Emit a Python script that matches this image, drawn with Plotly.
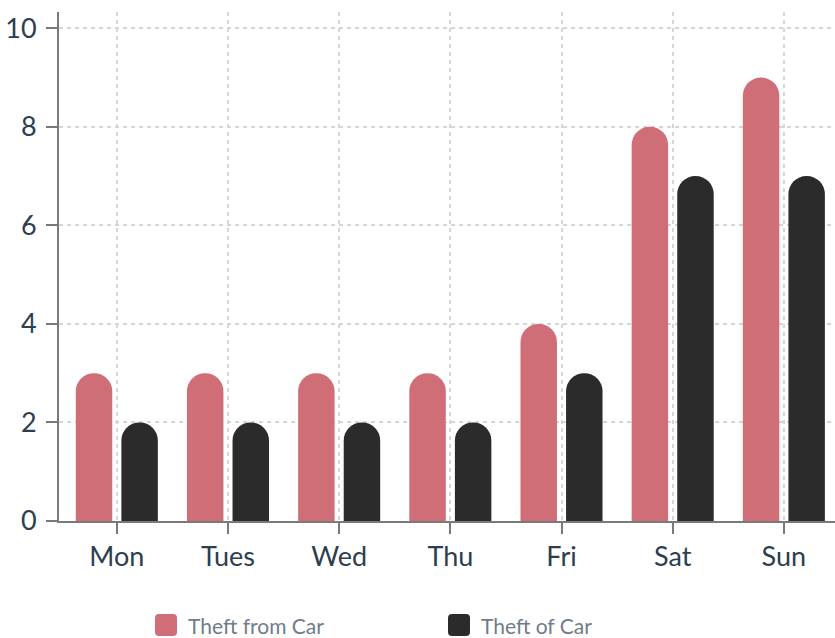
import plotly.graph_objects as go

days = ["Mon", "Tues", "Wed", "Thu", "Fri", "Sat", "Sun"]
theft_from_car = [3, 3, 3, 3, 4, 8, 9]
theft_of_car = [2, 2, 2, 2, 3, 7, 7]
series_names = ["Theft from Car", "Theft of Car"]
series_colors = ["#D06E78", "#2B2B2B"]
y_ticks = [0, 2, 4, 6, 8, 10]

FONT = "Lato"
W, H = 835, 638
ML, MR, MT, MB = 59, 0, 12, 117
PW, PH = W - ML - MR, H - MT - MB

fig = go.Figure()
for name, vals, col in zip(series_names, [theft_from_car, theft_of_car], series_colors):
    fig.add_trace(go.Bar(x=days, y=vals, name=name, marker=dict(color=col, line=dict(width=0), cornerradius="50%"),
                         showlegend=False))

# custom legend
def px_x(p):
    return (p - ML) / PW

def px_y(p):
    return (MT + PH - p) / PH

rr = "M -11,-7 Q -11,-11 -7,-11 L 7,-11 Q 11,-11 11,-7 L 11,7 Q 11,11 7,11 L -7,11 Q -11,11 -11,7 Z"
leg_sq = [166, 459]
leg_tx = [186, 479]
ly = 625
for name, col, sx, tx in zip(series_names, series_colors, leg_sq, leg_tx):
    fig.add_shape(type="path", xref="paper", yref="paper", xsizemode="pixel", ysizemode="pixel",
                  xanchor=px_x(sx), yanchor=px_y(ly), path=rr, fillcolor=col, line=dict(width=0))
    fig.add_annotation(xref="paper", yref="paper", x=px_x(tx), y=px_y(ly), text=name, showarrow=False,
                       xanchor="left", yanchor="middle", font=dict(family=FONT, size=21, color="#707C8A"))

fig.update_layout(
    width=W, height=H, autosize=False,
    margin=dict(l=ML, r=MR, t=MT, b=MB, pad=0),
    plot_bgcolor="white", paper_bgcolor="white",
    barmode="group", bargap=0.18, bargroupgap=0.2,
    font=dict(family=FONT, size=27, color="#2C3E50"),
)
fig.update_xaxes(
    range=[-0.52, 6.46], showline=True, linecolor="#7A7A7A", linewidth=2,
    ticks="outside", ticklen=11, tickwidth=2, tickcolor="#7A7A7A",
    showgrid=True, gridcolor="#D6D6D6", gridwidth=1.5, griddash="4px,4px",
    tickfont=dict(family=FONT, size=27, color="#2C3E50"), zeroline=False,
)
fig.update_yaxes(
    range=[0, 10.33], tickvals=y_ticks, showline=True, linecolor="#7A7A7A", linewidth=2,
    ticks="outside", ticklen=11, tickwidth=2, tickcolor="#7A7A7A", ticklabelstandoff=4,
    showgrid=True, gridcolor="#D6D6D6", gridwidth=1.5, griddash="4px,4px",
    tickfont=dict(family=FONT, size=27, color="#2C3E50"), zeroline=False,
)
fig.write_html("out.html", config={"displayModeBar": False},
               post_script="document.body.style.margin='0px';document.body.style.overflow='hidden';")
